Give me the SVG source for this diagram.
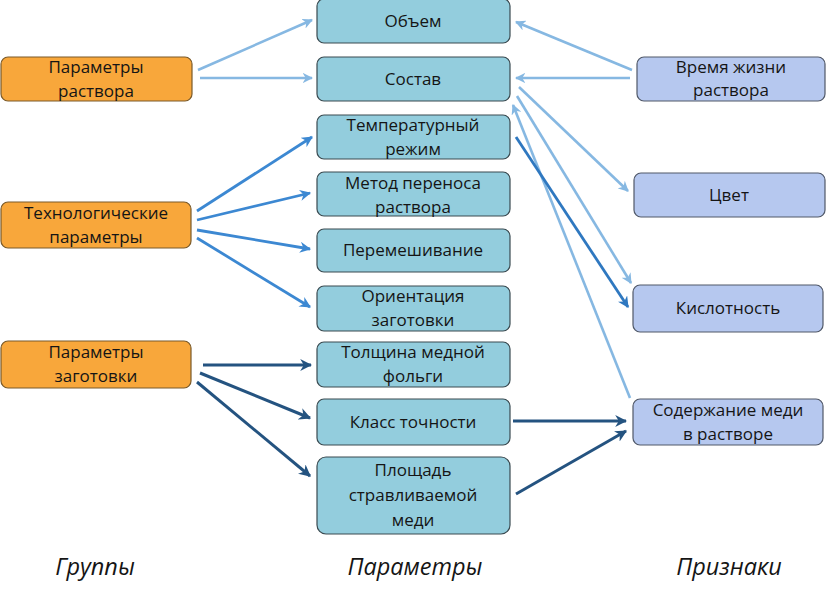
<svg xmlns="http://www.w3.org/2000/svg" width="827" height="598" viewBox="0 0 827 598">
<style>
text{font-family:"Open Sans","Liberation Sans",sans-serif;font-size:17px;fill:#151515;text-anchor:middle}
.grp{fill:#f8a73b;stroke:#7a5a2a;stroke-width:1.2}
.par{fill:#93cddd;stroke:#3a4a50;stroke-width:1.2}
.sig{fill:#b6c8ef;stroke:#505868;stroke-width:1.2}
.cap{font-style:italic;font-size:23.5px}
.l1{stroke:#86b8e2;stroke-width:2.6;fill:none;marker-end:url(#a1)}
.l2{stroke:#3c88d2;stroke-width:2.8;fill:none;marker-end:url(#a2)}
.l3{stroke:#245380;stroke-width:3;fill:none;marker-end:url(#a3)}
.l4{stroke:#2f78c0;stroke-width:2.8;fill:none;marker-end:url(#a4)}
</style>
<defs>
<marker id="a1" viewBox="0 0 10 10" refX="9" refY="5" markerWidth="4" markerHeight="4" orient="auto"><path d="M0,0 L10,5 L0,10 L3,5 z" fill="#86b8e2"/></marker>
<marker id="a2" viewBox="0 0 10 10" refX="9" refY="5" markerWidth="4" markerHeight="4" orient="auto"><path d="M0,0 L10,5 L0,10 L3,5 z" fill="#3c88d2"/></marker>
<marker id="a3" viewBox="0 0 10 10" refX="9" refY="5" markerWidth="4" markerHeight="4" orient="auto"><path d="M0,0 L10,5 L0,10 L3,5 z" fill="#245380"/></marker>
<marker id="a4" viewBox="0 0 10 10" refX="9" refY="5" markerWidth="4" markerHeight="4" orient="auto"><path d="M0,0 L10,5 L0,10 L3,5 z" fill="#2f78c0"/></marker>
</defs>

<g id="connectors">
<line class="l1" x1="198" y1="70" x2="312" y2="20"/>
<line class="l1" x1="200" y1="78" x2="312" y2="78"/>
<line class="l1" x1="632" y1="70" x2="516" y2="22"/>
<line class="l1" x1="630" y1="78" x2="516" y2="78"/>
<line class="l1" x1="519" y1="87" x2="628" y2="191"/>
<line class="l1" x1="517" y1="96" x2="631" y2="283"/>
<line class="l1" x1="630" y1="398" x2="513" y2="105"/>
<line class="l4" x1="516" y1="137" x2="628" y2="307"/>
<line class="l2" x1="197" y1="211" x2="312" y2="137"/>
<line class="l2" x1="197" y1="220" x2="310" y2="193"/>
<line class="l2" x1="197" y1="230" x2="310" y2="249"/>
<line class="l2" x1="197" y1="238" x2="310" y2="307"/>
<line class="l3" x1="203" y1="365" x2="311" y2="365"/>
<line class="l3" x1="200" y1="373" x2="310" y2="418"/>
<line class="l3" x1="197" y1="382" x2="310" y2="476"/>
<line class="l3" x1="513" y1="421" x2="626" y2="421"/>
<line class="l3" x1="516" y1="494" x2="626" y2="431"/>
</g>

<g id="g-solution"><rect class="grp" x="1" y="57" width="191" height="44" rx="7"/><text x="96" y="73">Параметры</text><text x="96" y="97">раствора</text></g>
<g id="g-tech"><rect class="grp" x="1" y="202" width="190" height="46" rx="7"/><text x="96" y="219">Технологические</text><text x="96" y="243">параметры</text></g>
<g id="g-work"><rect class="grp" x="1" y="341" width="190" height="47" rx="7"/><text x="96" y="358">Параметры</text><text x="96" y="382">заготовки</text></g>

<g id="p-volume"><rect class="par" x="317" y="-1" width="193" height="44" rx="7"/><text x="413" y="27">Объем</text></g>
<g id="p-comp"><rect class="par" x="317" y="57" width="193" height="44" rx="7"/><text x="413" y="85">Состав</text></g>
<g id="p-temp"><rect class="par" x="317" y="115" width="193" height="44" rx="7"/><text x="413" y="131">Температурный</text><text x="413" y="155">режим</text></g>
<g id="p-method"><rect class="par" x="317" y="172" width="193" height="44" rx="7"/><text x="413" y="189">Метод переноса</text><text x="413" y="213">раствора</text></g>
<g id="p-mix"><rect class="par" x="317" y="229" width="193" height="43" rx="7"/><text x="413" y="256">Перемешивание</text></g>
<g id="p-orient"><rect class="par" x="317" y="286" width="193" height="45" rx="7"/><text x="413" y="302">Ориентация</text><text x="413" y="326">заготовки</text></g>
<g id="p-thick"><rect class="par" x="317" y="342" width="193" height="45" rx="7"/><text x="413" y="358">Толщина медной</text><text x="413" y="382">фольги</text></g>
<g id="p-class"><rect class="par" x="317" y="399" width="193" height="46" rx="7"/><text x="413" y="428">Класс точности</text></g>
<g id="p-area"><rect class="par" x="317" y="457" width="193" height="77" rx="9"/><text x="413" y="476">Площадь</text><text x="413" y="501">стравливаемой</text><text x="413" y="526">меди</text></g>

<g id="s-life"><rect class="sig" x="637" y="57" width="188" height="44" rx="7"/><text x="731" y="73">Время жизни</text><text x="731" y="96">раствора</text></g>
<g id="s-color"><rect class="sig" x="634" y="173" width="191" height="44" rx="7"/><text x="729" y="201">Цвет</text></g>
<g id="s-acid"><rect class="sig" x="633" y="285" width="190" height="47" rx="7"/><text x="728" y="314">Кислотность</text></g>
<g id="s-copper"><rect class="sig" x="633" y="399" width="190" height="46" rx="7"/><text x="728" y="416">Содержание меди</text><text x="728" y="440">в растворе</text></g>

<text class="cap" x="95" y="575">Группы</text>
<text class="cap" x="415" y="575">Параметры</text>
<text class="cap" x="729" y="575">Признаки</text>
</svg>
